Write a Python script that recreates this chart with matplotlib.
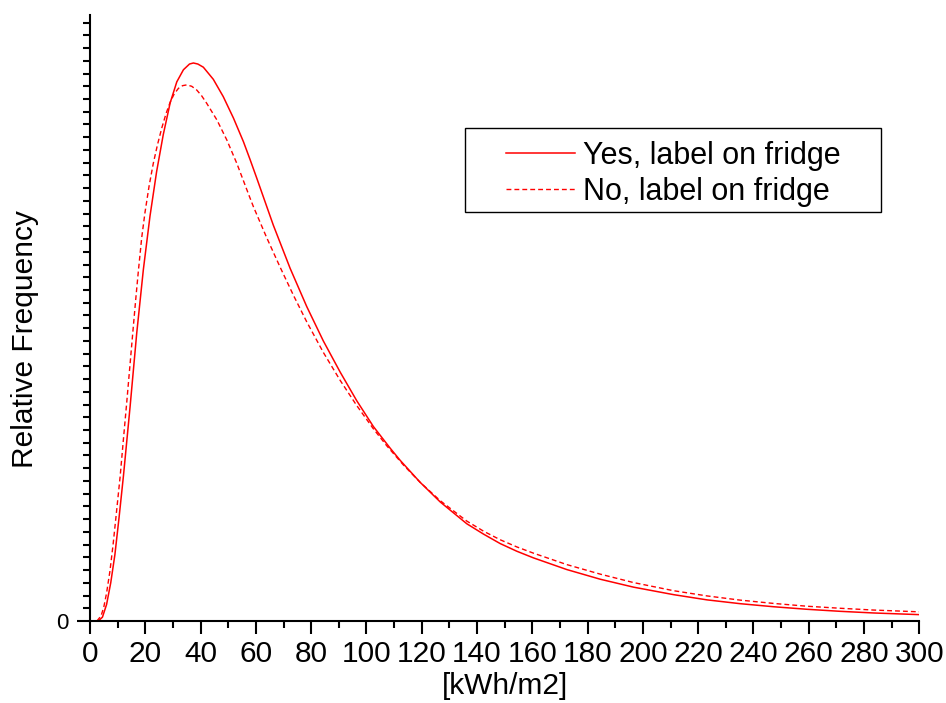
import matplotlib
matplotlib.use("Agg")
import matplotlib.pyplot as plt
from matplotlib.ticker import MultipleLocator, FixedLocator, FixedFormatter
from matplotlib.patches import Rectangle

plt.rcParams['font.family'] = ['Liberation Sans', 'DejaVu Sans']

# Data (x in kWh/m2, y in relative-frequency units)
yes_x = [3.0, 4.5, 6.0, 7.5, 9.0, 10.5, 12.1, 14.5, 16.9, 19.3, 21.7, 24.1, 26.5,
         29.0, 31.4, 33.8, 36.0, 37.4, 39.0, 41.0, 44.6, 48.2, 51.9, 55.5, 57.9,
         60.3, 66.3, 72.4, 78.4, 84.4, 90.5, 96.5, 102.5, 108.6, 112.2, 119.4,
         126.7, 136.3, 142.4, 148.4, 154.4, 160.4, 172.5, 184.6, 196.6, 211.1,
         223.2, 235.2, 247.3, 259.4, 271.4, 283.5, 300.0]
yes_y = [0.0, 0.3, 1.3, 3.0, 5.2, 8.1, 11.4, 16.83, 22.6, 27.6, 31.8, 35.3, 38.2,
         40.7, 42.35, 43.3, 43.75, 43.83, 43.75, 43.5, 42.55, 41.19, 39.5, 37.65,
         36.25, 34.8, 31.1, 27.7, 24.7, 22.0, 19.55, 17.3, 15.28, 13.57, 12.62,
         10.9, 9.35, 7.64, 6.82, 6.08, 5.48, 4.96, 4.04, 3.28, 2.66, 2.07, 1.66,
         1.36, 1.12, 0.92, 0.76, 0.63, 0.50]

no_x = [2.5, 4.0, 5.0, 6.0, 7.2, 8.4, 9.6, 10.9, 12.1, 13.3, 14.5, 15.7, 16.6,
        17.5, 18.7, 19.9, 21.4, 22.9, 24.4, 26.0, 27.5, 29.0, 30.5, 32.0, 33.5,
        35.0, 36.8, 38.6, 40.4, 42.2, 45.9, 49.5, 53.1, 57.7, 59.1, 63.9, 68.8,
        73.6, 78.4, 84.4, 90.5, 96.5, 102.5, 107.4, 113.4, 119.4, 126.7, 136.3,
        142.4, 148.4, 154.4, 160.4, 172.5, 184.6, 196.6, 211.1, 223.2, 235.2,
        247.3, 259.4, 271.4, 283.5, 300.0]
no_y = [0.0, 0.4, 1.1, 2.2, 3.9, 6.1, 8.6, 11.34, 14.3, 17.2, 20.2, 23.2, 25.4,
        27.5, 30.1, 32.1, 34.2, 35.95, 37.4, 38.75, 39.85, 40.75, 41.42, 41.84,
        42.05, 42.11, 42.0, 41.71, 41.25, 40.67, 39.36, 37.78, 35.95, 33.33,
        32.55, 30.12, 27.78, 25.58, 23.5, 21.1, 18.9, 16.92, 15.1, 13.75, 12.25,
        10.9, 9.45, 7.85, 7.05, 6.38, 5.82, 5.33, 4.43, 3.68, 3.02, 2.38, 1.97,
        1.64, 1.38, 1.16, 1.00, 0.86, 0.72]

labels = ["Yes, label on fridge", "No, label on fridge"]
x_major = list(range(0, 301, 20))
y_tick_labels = ["0"]

W, H = 946, 703
fig = plt.figure(figsize=(W / 100, H / 100), dpi=100)
ax = fig.add_axes([90 / W, 1 - 621 / H, (919.3 - 90) / W, (621 - 15) / H])

ax.plot(yes_x, yes_y, color='#ff0000', lw=1.1, label=labels[0])
ax.plot(no_x, no_y, color='#ff0000', lw=1.0, dashes=(3.5, 2.2), label=labels[1])

ax.set_xlim(0, 300)
ax.set_ylim(0, 47.6)

for s in ['top', 'right']:
    ax.spines[s].set_visible(False)
for s in ['left', 'bottom']:
    ax.spines[s].set_linewidth(1.5)

ax.xaxis.set_major_locator(FixedLocator(x_major))
ax.xaxis.set_minor_locator(MultipleLocator(10))
ax.yaxis.set_major_locator(FixedLocator([0]))
ax.yaxis.set_major_formatter(FixedFormatter(y_tick_labels))
ax.yaxis.set_minor_locator(MultipleLocator(1))

ax.tick_params(axis='x', which='major', direction='out', length=9, width=1.5,
               labelsize=21.5, pad=5)
ax.tick_params(axis='x', which='minor', direction='out', length=5, width=1.5)
ax.tick_params(axis='y', which='major', direction='out', length=9.3, width=1.5,
               labelsize=16, pad=6)
ax.tick_params(axis='y', which='minor', direction='out', length=5, width=1.5)

ax.set_xlabel("[kWh/m2]", fontsize=21.5, va='center')
ax.xaxis.set_label_coords(0.5, (621 - 686) / 606)
ax.set_ylabel("Relative Frequency", fontsize=21.5, va='center', ha='center')
ax.yaxis.set_label_coords((25 - 90) / 829.3, (621 - 339) / 606)

leg = ax.legend(loc='center left', bbox_to_anchor=(506 / W, 1 - 174 / H),
                bbox_transform=fig.transFigure, frameon=False, fontsize=22,
                handlelength=2.25, handletextpad=0.26, borderpad=0,
                borderaxespad=0, labelspacing=0.19)

fig.patches.append(Rectangle((465 / W, 1 - 212 / H), (881 - 465) / W, (212 - 128) / H,
                             transform=fig.transFigure, fill=False,
                             edgecolor='black', lw=1.0, zorder=5))

fig.savefig("out.png", dpi=100)
